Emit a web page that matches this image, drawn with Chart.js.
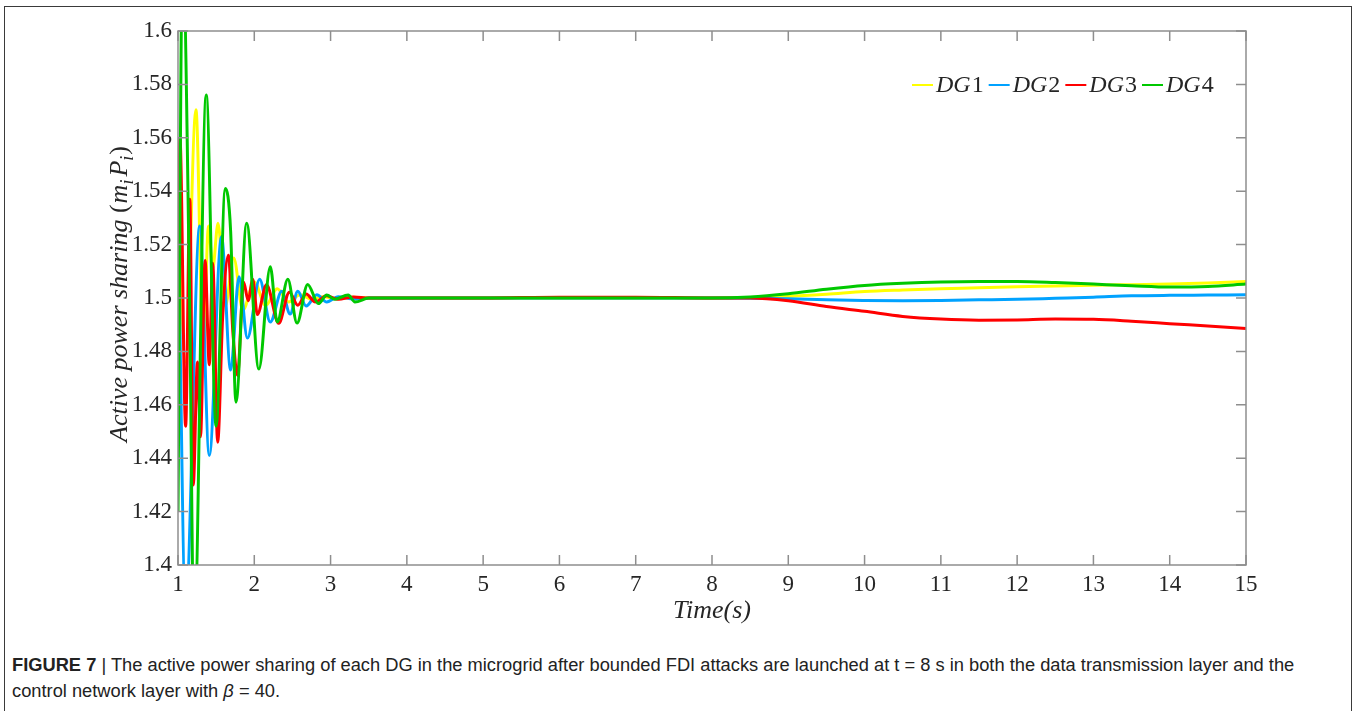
<!DOCTYPE html>
<html>
<head>
<meta charset="utf-8">
<title>Active power sharing</title>
<script src="https://cdn.jsdelivr.net/npm/chart.js@4.4.1/dist/chart.umd.min.js"></script>
<style>
  html, body { margin: 0; padding: 0; background: #fff; }
  body { width: 1356px; height: 711px; position: relative; overflow: hidden; }
  #frame { position: absolute; left: 4px; top: 6px; width: 1348px; height: 740px; border: 1.5px solid #3a3a3a; box-sizing: border-box; }
  #wrap { position: absolute; left: 0; top: 0; width: 1356px; height: 640px; }
  #caption { position: absolute; left: 12px; top: 652px; font-family: "Liberation Sans", Arial, sans-serif; font-size: 18.3px; line-height: 26px; color: #222; white-space: nowrap; }
</style>
</head>
<body>
<div id="frame"></div>
<div id="wrap"><canvas id="powerChart" width="1356" height="640"></canvas></div>
<div id="caption"><b>FIGURE 7</b> | The active power sharing of each DG in the microgrid after bounded FDI attacks are launched at t = 8 s in both the data transmission layer and the<br>control network layer with <i>β</i> = 40.</div>
<script>
// turning points of the transient, then the slow drift after the attack at t = 8 s
const seriesNames = ['DG1', 'DG2', 'DG3', 'DG4'];
const seriesColors = ['#ffff00', '#00a2ff', '#ff0000', '#00c800'];

const dg1Time = [1.0, 1.1, 1.235, 1.33, 1.40, 1.455, 1.525, 1.62, 1.73, 1.85, 2.0, 2.15, 2.3, 2.45, 2.6, 2.75, 2.9, 3.1, 3.3, 3.5,
  4, 5, 6, 7, 8, 8.5, 9, 9.5, 10, 10.5, 11, 11.5, 12, 12.5, 13, 13.5, 14, 14.5, 15];
const dg1Values = [1.53, 1.476, 1.5705, 1.48, 1.527, 1.511, 1.528, 1.497, 1.515, 1.4955, 1.506, 1.4972, 1.5035, 1.4985, 1.5012, 1.4995, 1.5005, 1.4997, 1.5003, 1.5,
  1.5, 1.5, 1.5, 1.5, 1.5, 1.5002, 1.5006, 1.5014, 1.5024, 1.503, 1.5035, 1.5038, 1.5042, 1.5045, 1.5048, 1.505, 1.5052, 1.5056, 1.5062];

const dg2Time = [1.0, 1.1, 1.285, 1.41, 1.57, 1.69, 1.80, 1.91, 2.07, 2.21, 2.36, 2.47, 2.57, 2.68, 2.82, 2.95, 3.1, 3.3, 3.5,
  4, 5, 6, 7, 8, 8.5, 9, 9.5, 10, 10.5, 11, 11.5, 12, 12.5, 13, 13.5, 14, 14.5, 15];
const dg2Values = [1.535, 1.385, 1.527, 1.441, 1.523, 1.473, 1.508, 1.485, 1.507, 1.491, 1.5025, 1.494, 1.5025, 1.497, 1.5012, 1.4985, 1.5005, 1.4996, 1.5,
  1.5, 1.5, 1.5, 1.5, 1.5, 1.4999, 1.4997, 1.4993, 1.4991, 1.499, 1.4991, 1.4993, 1.4995, 1.4999, 1.5003, 1.5008, 1.501, 1.5011, 1.5012];

const dg3Time = [1.0, 1.025, 1.10, 1.155, 1.20, 1.255, 1.295, 1.355, 1.41, 1.455, 1.52, 1.585, 1.66, 1.72, 1.78, 1.86, 1.92, 1.98, 2.04, 2.16, 2.32, 2.46, 2.57, 2.68, 2.8, 2.95, 3.1, 3.3, 3.5,
  4, 5, 6, 7, 8, 8.5, 9, 9.5, 10, 10.5, 11, 11.5, 12, 12.5, 13, 13.5, 14, 14.5, 15];
const dg3Values = [1.467, 1.56, 1.452, 1.537, 1.43, 1.476, 1.448, 1.514, 1.475, 1.513, 1.446, 1.4925, 1.516, 1.487, 1.471, 1.506, 1.499, 1.507, 1.4938, 1.505, 1.4905, 1.5022, 1.4973, 1.5015, 1.4985, 1.5008, 1.4995, 1.5004, 1.5,
  1.5, 1.5, 1.5003, 1.5003, 1.5, 1.5, 1.499, 1.4968, 1.495, 1.4931, 1.4921, 1.4917, 1.4918, 1.4921, 1.492, 1.4913, 1.4904, 1.4895, 1.4886];

const dg4Time = [1.0, 1.06, 1.15, 1.21, 1.37, 1.50, 1.62, 1.69, 1.76, 1.90, 2.06, 2.21, 2.30, 2.44, 2.56, 2.70, 2.84, 2.95, 3.05, 3.23, 3.32, 3.5,
  4, 5, 6, 7, 8, 8.5, 9, 9.5, 10, 10.5, 11, 11.5, 12, 12.5, 13, 13.5, 14, 14.5, 15];
const dg4Values = [1.42, 1.63, 1.504, 1.372, 1.576, 1.452, 1.541, 1.525, 1.461, 1.528, 1.4734, 1.5117, 1.491, 1.507, 1.4906, 1.5051, 1.4979, 1.5011, 1.4995, 1.5011, 1.4985, 1.5,
  1.5, 1.5, 1.5, 1.5, 1.5, 1.5004, 1.5016, 1.5033, 1.5047, 1.5055, 1.506, 1.5062, 1.5062, 1.5058, 1.5052, 1.5046, 1.5041, 1.5043, 1.5052];

const xTicks = [1, 2, 3, 4, 5, 6, 7, 8, 9, 10, 11, 12, 13, 14, 15];
const yTicks = [1.4, 1.42, 1.44, 1.46, 1.48, 1.5, 1.52, 1.54, 1.56, 1.58, 1.6];

const allTimes = [dg1Time, dg2Time, dg3Time, dg4Time];
const allValues = [dg1Values, dg2Values, dg3Values, dg4Values];

const serif = '"Liberation Serif", "Times New Roman", serif';
const axisGrey = '#8e8e8e';

// matlab style box with inward ticks on all four sides
const frameTicks = {
  id: 'frameTicks',
  afterDatasetsDraw(chart) {
    const { ctx, chartArea: a } = chart;
    const xs = chart.scales.x, ys = chart.scales.y;
    ctx.save();
    ctx.strokeStyle = axisGrey;
    ctx.lineWidth = 1.5;
    ctx.strokeRect(a.left, a.top, a.right - a.left, a.bottom - a.top);
    ctx.beginPath();
    xs.ticks.forEach(t => {
      const px = xs.getPixelForValue(t.value);
      ctx.moveTo(px, a.bottom); ctx.lineTo(px, a.bottom - 10);
      ctx.moveTo(px, a.top); ctx.lineTo(px, a.top + 10);
    });
    ys.ticks.forEach(t => {
      const py = ys.getPixelForValue(t.value);
      ctx.moveTo(a.left, py); ctx.lineTo(a.left + 10, py);
      ctx.moveTo(a.right, py); ctx.lineTo(a.right - 10, py);
    });
    ctx.stroke();
    ctx.restore();
  }
};

// y title with subscripts, and the legend with italic DG
const mathText = {
  id: 'mathText',
  afterDraw(chart) {
    const ctx = chart.ctx;
    const big = 'italic 24px ' + serif, up = '24px ' + serif;
    const tBig = 'italic 26px ' + serif, tSmall = 'italic 18px ' + serif, tUp = '26px ' + serif;
    const parts = [
      ['Active power sharing ', tBig, 0, 0], ['(', tUp, 0, 1], ['m', tBig, 0, 0], ['i', tSmall, 6, 3],
      ['P', tBig, 0, 0], ['i', tSmall, 6, 1], [')', tUp, 0, 0]
    ];
    ctx.save();
    ctx.fillStyle = '#262626';
    ctx.textBaseline = 'alphabetic';
    let total = 0;
    parts.forEach(p => { ctx.font = p[1]; total += ctx.measureText(p[0]).width + p[3]; });
    ctx.translate(127, 294);
    ctx.rotate(-Math.PI / 2);
    let cx = -total / 2;
    parts.forEach(p => {
      ctx.font = p[1];
      ctx.fillText(p[0], cx, p[2]);
      cx += ctx.measureText(p[0]).width + p[3];
    });
    ctx.restore();

    ctx.save();
    let lx = 912;
    const ly = 85;
    ctx.textBaseline = 'middle';
    ctx.fillStyle = '#262626';
    chart.data.datasets.forEach(ds => {
      ctx.strokeStyle = ds.borderColor;
      ctx.lineWidth = 2;
      ctx.beginPath();
      ctx.moveTo(lx, ly); ctx.lineTo(lx + 21, ly);
      ctx.stroke();
      lx += 24;
      const letters = ds.label.replace(/\d/g, ''), digits = ds.label.replace(/\D/g, '');
      ctx.font = big;
      ctx.fillText(letters, lx, ly + 1);
      lx += ctx.measureText(letters).width + 1;
      ctx.font = up;
      ctx.fillText(digits, lx, ly + 1);
      lx += ctx.measureText(digits).width + 5;
    });
    ctx.restore();
  }
};

const datasets = seriesNames.map((name, i) => ({
  label: name,
  data: allTimes[i].map((t, k) => ({ x: t, y: allValues[i][k] })),
  borderColor: seriesColors[i],
  backgroundColor: seriesColors[i],
  borderWidth: 3,
  pointRadius: 0,
  cubicInterpolationMode: 'monotone',
  clip: 0,
  order: seriesNames.length - i
}));

new Chart(document.getElementById('powerChart').getContext('2d'), {
  type: 'line',
  data: { datasets },
  options: {
    responsive: false,
    devicePixelRatio: 1,
    animation: false,
    layout: { padding: { left: 105, top: 31, right: 110, bottom: 13 } },
    plugins: { legend: { display: false }, tooltip: { enabled: false } },
    scales: {
      x: {
        type: 'linear',
        min: 1,
        max: 15,
        afterBuildTicks: s => { s.ticks = xTicks.map(v => ({ value: v })); },
        afterFit: s => { s.height = 62; },
        grid: { display: false, drawTicks: false },
        border: { display: false },
        ticks: { color: '#262626', font: { family: serif, size: 23 }, padding: 6, maxRotation: 0 },
        title: { display: true, text: 'Time(s)', color: '#262626', font: { family: serif, size: 26, style: 'italic' }, padding: 0 }
      },
      y: {
        min: 1.4,
        max: 1.6,
        afterBuildTicks: s => { s.ticks = yTicks.map(v => ({ value: v })); },
        afterFit: s => { s.width = 73; },
        grid: { display: false, drawTicks: false },
        border: { display: false },
        ticks: { color: '#262626', font: { family: serif, size: 23 }, padding: 6, callback: v => String(+v.toFixed(2)) }
      }
    }
  },
  plugins: [frameTicks, mathText]
});
</script>
</body>
</html>
